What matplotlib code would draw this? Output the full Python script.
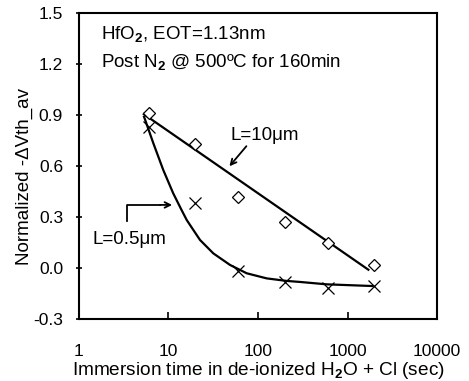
import matplotlib
matplotlib.use('Agg')
import matplotlib.pyplot as plt

plt.rcParams['font.family'] = ['Liberation Sans', 'DejaVu Sans']
plt.rcParams['mathtext.fontset'] = 'custom'
plt.rcParams['mathtext.rm'] = 'Liberation Sans'
plt.rcParams['mathtext.bf'] = 'Liberation Sans:bold'

# measured points
time_sec = [6, 20, 60, 200, 600, 2000]
dvth_10um = [0.91, 0.73, 0.42, 0.27, 0.15, 0.02]
dvth_05um = [0.83, 0.38, -0.02, -0.08, -0.12, -0.105]

# trend lines
trend_10um_t = [5.3, 1710]
trend_10um_y = [0.905, -0.01]
trend_05um_t = [5.33, 6.77, 8.75, 11.3, 14.0, 16.0, 17.4, 22.5, 31.7, 48.7, 74.8,
                125, 209, 295, 585, 1900]
trend_05um_y = [0.89, 0.734, 0.576, 0.439, 0.341, 0.282, 0.253, 0.165, 0.086, 0.018,
                -0.031, -0.061, -0.076, -0.082, -0.096, -0.106]

x_ticks = [1, 10, 100, 1000, 10000]
x_ticklabels = ['1', '10', '100', '1000', '10000']
y_ticks = [-0.3, 0.0, 0.3, 0.6, 0.9, 1.2, 1.5]

fig = plt.figure(figsize=(4.69, 3.81), dpi=100)
ax = fig.add_axes([0.1684, 0.1627, 0.7634, 0.8032])

ax.plot(trend_10um_t, trend_10um_y, color='black', lw=1.6)
ax.plot(trend_05um_t, trend_05um_y, color='black', lw=1.6)
ax.plot(time_sec, dvth_10um, linestyle='none', marker='D', ms=6.3,
        mfc='white', mec='black', mew=0.9)
ax.plot(time_sec, dvth_05um, linestyle='none', marker='x', ms=8.5,
        mec='black', mew=0.9)

ax.set_xscale('log')
ax.set_xlim(1, 10000)
ax.set_ylim(-0.3, 1.5)
ax.set_xticks(x_ticks)
ax.set_xticklabels(x_ticklabels)
ax.xaxis.set_minor_locator(matplotlib.ticker.NullLocator())
ax.set_yticks(y_ticks)
ax.set_yticklabels([f'{v:.1f}' for v in y_ticks])
ax.tick_params(axis='x', direction='in', length=5, width=1.2, pad=18, labelsize=12.5)
ax.tick_params(axis='y', direction='inout', length=5, width=1.2, pad=9, labelsize=12.5)
for sp in ax.spines.values():
    sp.set_linewidth(1.5)

ax.set_xlabel('Immersion time in de-ionized H$_\\mathbf{2}$O + Cl (sec)', fontsize=13.7,
              labelpad=0.5)
ax.set_ylabel('Normalized -ΔVth_av', fontsize=13.5)
ax.yaxis.set_label_coords(-0.128, 0.466)

ax.text(1.76, 1.37, 'HfO$_\\mathbf{2}$, EOT=1.13nm', fontsize=13.5,
        va='center', ha='left')
ax.text(1.76, 1.206, 'Post N$_\\mathbf{2}$ @ 500ºC for 160min', fontsize=13.5,
        va='center', ha='left')

# L=10um label with arrow
ax.annotate('', xy=(45.8, 0.586), xytext=(77.7, 0.729),
            arrowprops=dict(arrowstyle='->', color='black', lw=1.3))
ax.text(48.7, 0.782, 'L=10μm', fontsize=13.5, va='center', ha='left')

# L=0.5um label with bent arrow
ax.plot([3.41, 3.41, 8.0], [0.278, 0.371, 0.371], color='black', lw=1.3)
ax.annotate('', xy=(11.8, 0.371), xytext=(7.5, 0.371),
            arrowprops=dict(arrowstyle='->', color='black', lw=1.3))
ax.text(1.43, 0.169, 'L=0.5μm', fontsize=13.5, va='center', ha='left')

plt.savefig('out.png', dpi=100)
